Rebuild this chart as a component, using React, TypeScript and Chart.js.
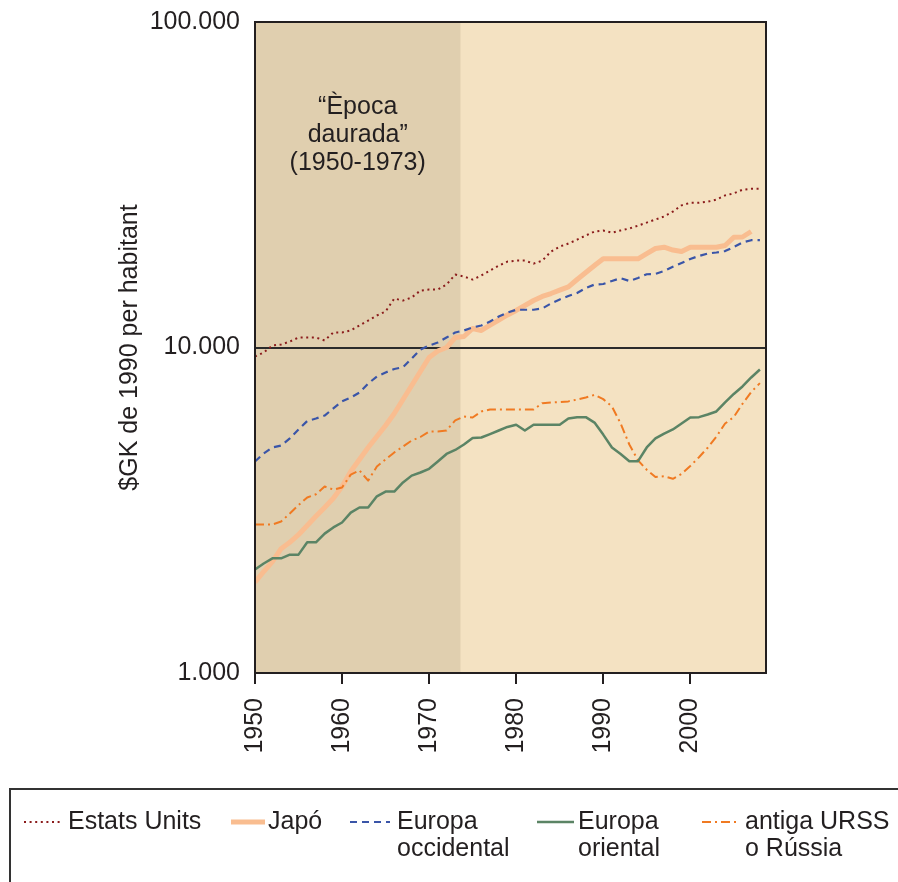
import React, { useEffect, useRef } from 'react';
import { Chart, registerables } from 'chart.js';

Chart.register(...registerables);

// ---------- DATA ----------
const years = [
  1950, 1951, 1952, 1953, 1954, 1955, 1956, 1957, 1958, 1959,
  1960, 1961, 1962, 1963, 1964, 1965, 1966, 1967, 1968, 1969,
  1970, 1971, 1972, 1973, 1974, 1975, 1976, 1977, 1978, 1979,
  1980, 1981, 1982, 1983, 1984, 1985, 1986, 1987, 1988, 1989,
  1990, 1991, 1992, 1993, 1994, 1995, 1996, 1997, 1998, 1999,
  2000, 2001, 2002, 2003, 2004, 2005, 2006, 2007, 2008,
];

const usa = [
  9380, 9650, 10140, 10215, 10430, 10730, 10730, 10730, 10510, 11120,
  11120, 11280, 11680, 12100, 12540, 12900, 14140, 13940, 14240, 14960,
  15060, 15060, 15610, 16750, 16520, 16170, 16640, 17230, 17840, 18360,
  18490, 18490, 18100, 18490, 19710, 20420, 20860, 21450, 22080, 22720,
  22880, 22530, 22880, 23200, 23680, 24200, 24730, 25260, 26150, 27330,
  27840, 27840, 28040, 28460, 29330, 29750, 30520, 30740, 30740,
];

const japan = [
  1900, 2050, 2200, 2410, 2520, 2660, 2840, 3030, 3225, 3440,
  3740, 4160, 4530, 4930, 5330, 5760, 6270, 6920, 7645, 8440,
  9320, 9755, 10000, 10730, 10810, 11440, 11280, 11720, 12150, 12590,
  13000, 13460, 13940, 14350, 14650, 15000, 15350, 16180, 17000, 17860,
  18730, 18730, 18730, 18730, 18730, 19440, 20140, 20330, 19930, 19720,
  20330, 20330, 20330, 20330, 20580, 21820, 21850, 22720, null,
];

const westernEurope = [
  4465, 4725, 4930, 5000, 5255, 5600, 5945, 6050, 6180, 6500,
  6830, 7020, 7270, 7750, 8140, 8380, 8590, 8700, 9250, 9860,
  10140, 10360, 10730, 11120, 11280, 11520, 11680, 12020, 12450, 12810,
  13060, 13060, 13060, 13180, 13650, 14040, 14400, 14710, 15240, 15610,
  15670, 16010, 16330, 16010, 16350, 16790, 16830, 17180, 17700, 18180,
  18700, 19110, 19440, 19580, 19780, 20360, 21020, 21360, 21360,
];

const easternEurope = [
  2080, 2170, 2250, 2250, 2310, 2310, 2520, 2520, 2680, 2800,
  2900, 3110, 3225, 3225, 3490, 3610, 3610, 3850, 4040, 4130,
  4240, 4465, 4710, 4845, 5035, 5270, 5290, 5420, 5560, 5700,
  5790, 5560, 5790, 5790, 5790, 5790, 6050, 6110, 6110, 5880,
  5400, 4930, 4710, 4475, 4475, 4930, 5255, 5440, 5600, 5840,
  6095, 6110, 6225, 6360, 6780, 7200, 7590, 8090, 8560,
];

const formerUSSR = [
  2860, 2860, 2860, 2920, 3090, 3280, 3460, 3540, 3740, 3660,
  3715, 4070, 4190, 3900, 4310, 4530, 4760, 4965, 5180, 5310,
  5520, 5520, 5560, 5970, 6140, 6095, 6360, 6450, 6450, 6450,
  6450, 6450, 6450, 6745, 6780, 6800, 6830, 6920, 7020, 7150,
  6940, 6590, 5840, 5035, 4500, 4210, 4000, 4020, 3950, 4085,
  4325, 4600, 4920, 5320, 5840, 6115, 6715, 7300, 7770,
];

const seriesNames = ['Estats Units', 'Japó', 'Europa occidental', 'Europa oriental', 'antiga URSS o Rússia'];
const legendLines = [['Estats Units'], ['Japó'], ['Europa', 'occidental'], ['Europa', 'oriental'], ['antiga URSS', 'o Rússia']];
const xTicks = [1950, 1960, 1970, 1980, 1990, 2000];
const yTicks = [1000, 10000, 100000];
const yTickLabels = ['1.000', '10.000', '100.000'];
const yTitle = '$GK de 1990 per habitant';
const goldenStart = 1950;
const goldenEnd = 1973.6;
const annotationLines = ['\u201CÈpoca', 'daurada\u201D', '(1950-1973)'];

// ---------- STYLE ----------
const FONT = '"Liberation Sans", Arial, Helvetica, sans-serif';
const TEXT = '#231F20';
const DARK_BG = '#E0CFAF';
const LIGHT_BG = '#F4E2C2';

const styles = [
  { color: '#8B1C1C', width: 2, dash: [2, 3.6] },
  { color: '#F9BD90', width: 5, dash: [] as number[] },
  { color: '#3A55A8', width: 2.2, dash: [7, 5] },
  { color: '#5B8465', width: 2.5, dash: [] as number[] },
  { color: '#F07A22', width: 2, dash: [9, 4, 2, 4] },
];
const seriesData = [usa, japan, westernEurope, easternEurope, formerUSSR];

const legendLayout = [
  { x0: 24, x1: 60, tx: 68 },
  { x0: 231, x1: 265, tx: 268 },
  { x0: 350, x1: 390, tx: 397 },
  { x0: 537, x1: 574, tx: 578 },
  { x0: 702, x1: 739, tx: 745 },
];

const decorPlugin = {
  id: 'decor',
  beforeDraw(chart: any) {
    const { ctx, chartArea: a, scales } = chart;
    const x = scales.x;
    const s = x.getPixelForValue(goldenStart);
    const e = x.getPixelForValue(goldenEnd);
    ctx.save();
    ctx.fillStyle = LIGHT_BG;
    ctx.fillRect(a.left, a.top, a.right - a.left, a.bottom - a.top);
    ctx.fillStyle = DARK_BG;
    ctx.fillRect(s, a.top, e - s, a.bottom - a.top);
    ctx.fillStyle = TEXT;
    ctx.font = `25px ${FONT}`;
    ctx.textAlign = 'center';
    ctx.textBaseline = 'middle';
    const cx = (s + e) / 2;
    annotationLines.forEach((t, i) => ctx.fillText(t, cx, 107 + i * 28));
    ctx.restore();
  },
  afterDatasetsDraw(chart: any) {
    const { ctx, chartArea: a } = chart;
    ctx.save();
    ctx.strokeStyle = '#231F20';
    ctx.lineWidth = 2;
    ctx.setLineDash([]);
    ctx.strokeRect(a.left, a.top, a.right - a.left, a.bottom - a.top);
    ctx.restore();
  },
  afterDraw(chart: any) {
    const { ctx } = chart;
    ctx.save();
    ctx.strokeStyle = '#333333';
    ctx.lineWidth = 2;
    ctx.strokeRect(10, 789, 900, 120);
    ctx.font = `25px ${FONT}`;
    ctx.textAlign = 'left';
    ctx.textBaseline = 'middle';
    legendLayout.forEach((l, i) => {
      const st = styles[i];
      ctx.beginPath();
      ctx.strokeStyle = st.color;
      ctx.lineWidth = st.width;
      ctx.setLineDash(st.dash);
      ctx.moveTo(l.x0, 822);
      ctx.lineTo(l.x1, 822);
      ctx.stroke();
      ctx.setLineDash([]);
      ctx.fillStyle = TEXT;
      legendLines[i].forEach((t, j) => ctx.fillText(t, l.tx, 822 + j * 27));
    });
    ctx.restore();
  },
};

export default function App() {
  const ref = useRef<HTMLCanvasElement>(null);
  useEffect(() => {
    if (!ref.current) return;
    const datasets = seriesData.map((vals, i) => ({
      label: seriesNames[i],
      data: years.map((yr, k) => ({ x: yr, y: vals[k] })),
      borderColor: styles[i].color,
      borderWidth: styles[i].width,
      borderDash: styles[i].dash,
      borderCapStyle: 'butt' as const,
      borderJoinStyle: 'round' as const,
      pointRadius: 0,
      tension: 0,
      fill: false,
      spanGaps: false,
      order: i === 1 ? 10 : 0,
    }));
    const chart = new Chart(ref.current, {
      type: 'line',
      data: { datasets },
      plugins: [decorPlugin],
      options: {
        animation: false,
        responsive: false,
        devicePixelRatio: 1,
        layout: { padding: { left: 0, right: 132, top: 22, bottom: 0 } },
        plugins: { legend: { display: false }, tooltip: { enabled: false } },
        scales: {
          x: {
            type: 'linear',
            min: 1950,
            max: 2008.7,
            border: { display: false },
            grid: {
              drawOnChartArea: false,
              drawTicks: true,
              tickLength: 11,
              color: TEXT,
              lineWidth: 2,
            },
            ticks: {
              autoSkip: false,
              maxRotation: 90,
              minRotation: 90,
              padding: 14,
              color: TEXT,
              font: { family: FONT, size: 25 },
              callback: (v: any) => String(v),
            },
            afterBuildTicks: (scale: any) => {
              scale.ticks = xTicks.map((v) => ({ value: v }));
            },
            afterFit: (scale: any) => {
              scale.height = 209;
              scale.paddingLeft = 0;
              scale.paddingRight = 0;
            },
          },
          y: {
            type: 'logarithmic',
            min: 1000,
            max: 100000,
            border: { display: false },
            grid: {
              drawTicks: false,
              lineWidth: 2,
              color: (c: any) => (c.tick && c.tick.value === 10000 ? '#2B2B2B' : 'rgba(0,0,0,0)'),
            },
            ticks: {
              padding: 15,
              color: TEXT,
              font: { family: FONT, size: 25 },
              callback: (_v: any, i: number) => yTickLabels[i],
            },
            afterBuildTicks: (scale: any) => {
              scale.ticks = yTicks.map((v) => ({ value: v }));
            },
            title: {
              display: true,
              text: yTitle,
              color: TEXT,
              font: { family: FONT, size: 25 },
              padding: { top: 115, bottom: 0 },
            },
            afterFit: (scale: any) => {
              scale.width = 255;
              scale.paddingTop = 0;
              scale.paddingBottom = 0;
            },
          },
        },
      },
    } as any);
    return () => chart.destroy();
  }, []);
  return (
    <div style={{ position: 'absolute', left: 0, top: 0, width: 898, height: 882, overflow: 'hidden' }}>
      <canvas ref={ref} width={898} height={882} style={{ display: 'block', width: 898, height: 882 }} />
    </div>
  );
}
